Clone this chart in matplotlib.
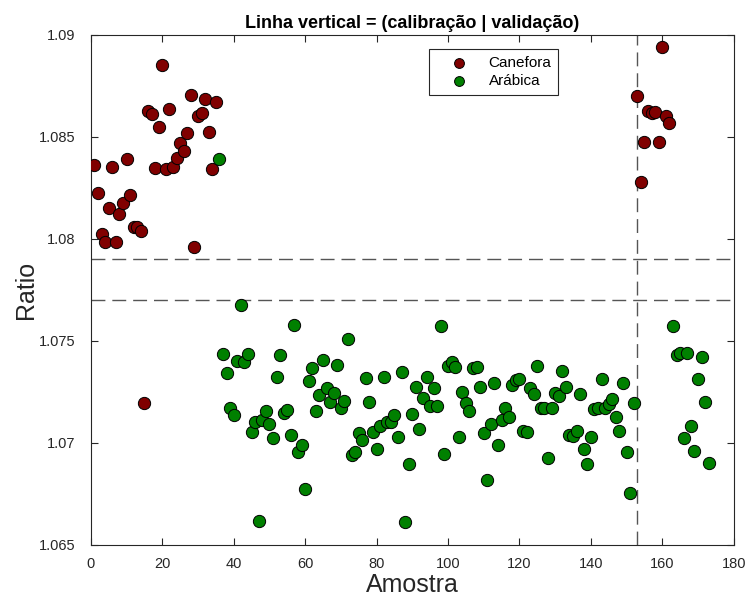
import matplotlib

matplotlib.use("Agg")
import matplotlib.pyplot as plt
from matplotlib.ticker import FuncFormatter, MultipleLocator

plt.rcParams["font.family"] = ["Liberation Sans", "DejaVu Sans"]

# amostras de calibração e validação (Canefora)
canefora_amostra = list(range(1, 36)) + list(range(153, 163))
canefora_ratio = [
    1.08363, 1.08224, 1.08025, 1.07987, 1.08154, 1.08351, 1.07987, 1.08123,
    1.08178, 1.08392, 1.08216, 1.08057, 1.08057, 1.08039, 1.07195, 1.08627,
    1.08611, 1.08350, 1.08551, 1.08853, 1.08342, 1.08637, 1.08355, 1.08396,
    1.08469, 1.08431, 1.08518, 1.08706, 1.07962, 1.08603, 1.08616, 1.08686,
    1.08526, 1.08343, 1.08673,
    1.08701, 1.08279, 1.08477, 1.08627, 1.08616, 1.08620, 1.08477, 1.08940,
    1.08603, 1.08567,
]

# amostras de Arábica
arabica_amostra = list(range(36, 153)) + list(range(163, 174))
arabica_ratio = [
    1.08392, 1.07436, 1.07342, 1.07170, 1.07137, 1.07403, 1.07675, 1.07399,
    1.07435, 1.07052, 1.07105, 1.06618, 1.07113, 1.07157, 1.07092, 1.07023,
    1.07325, 1.07430, 1.07147, 1.07162, 1.07039, 1.07578, 1.06958, 1.06990,
    1.06773, 1.07306, 1.07369, 1.07157, 1.07235, 1.07407, 1.07268, 1.07200,
    1.07243, 1.07382, 1.07170, 1.07206, 1.07508, 1.06941, 1.06954, 1.07047,
    1.07015, 1.07320, 1.07200, 1.07052, 1.06969, 1.07085, 1.07325, 1.07105,
    1.07105, 1.07137, 1.07031, 1.07348, 1.06611, 1.06897, 1.07142, 1.07273,
    1.07069, 1.07219, 1.07322, 1.07183, 1.07268, 1.07181, 1.07574, 1.06946,
    1.07377, 1.07399, 1.07374, 1.07031, 1.07252, 1.07194, 1.07159, 1.07366,
    1.07374, 1.07276, 1.07047, 1.06819, 1.07093, 1.07293, 1.06990, 1.07113,
    1.07173, 1.07129, 1.07284, 1.07309, 1.07314, 1.07060, 1.07052, 1.07268,
    1.07239, 1.07379, 1.07173, 1.07170, 1.06925, 1.07170, 1.07243, 1.07230,
    1.07353, 1.07276, 1.07039, 1.07034, 1.07059, 1.07239, 1.06969, 1.06895,
    1.07029, 1.07165, 1.07170, 1.07312, 1.07170, 1.07190, 1.07216, 1.07129,
    1.07060, 1.07293, 1.06954, 1.06753, 1.07198,
    1.07574, 1.07431, 1.07440, 1.07023, 1.07443, 1.07083, 1.06961, 1.07314,
    1.07420, 1.07203, 1.06902,
]

limites_ratio = [1.079, 1.077]
divisao_amostra = 153

AX_COLOR = "#262626"

fig = plt.figure(figsize=(7.51, 5.99), dpi=100)
ax = fig.add_axes([0.121, 0.0902, 0.856, 0.8514])

ax.scatter(canefora_amostra, canefora_ratio, s=78, c="#800000",
           edgecolors="black", linewidths=0.7, label="Canefora", zorder=3)
ax.scatter(arabica_amostra, arabica_ratio, s=78, c="#008000",
           edgecolors="black", linewidths=0.7, label="Arábica", zorder=3)

for lim in limites_ratio:
    ax.axhline(lim, color="#555555", lw=1.0, dashes=(10, 5), zorder=2)
ax.axvline(divisao_amostra, color="#555555", lw=1.0, dashes=(10, 5), zorder=2)

ax.set_xlim(0, 180)
ax.set_ylim(1.065, 1.09)
ax.xaxis.set_major_locator(MultipleLocator(20))
ax.yaxis.set_major_locator(MultipleLocator(0.005))
ax.yaxis.set_major_formatter(FuncFormatter(lambda v, p: f"{v:g}"))
ax.tick_params(direction="in", top=True, right=True, length=5, width=0.8,
               labelsize=10.5, colors=AX_COLOR)
ax.tick_params(axis="x", pad=9)
ax.tick_params(axis="y", pad=11)
for sp in ax.spines.values():
    sp.set_color(AX_COLOR)
    sp.set_linewidth(0.8)

ax.set_xlabel("Amostra", fontsize=18, color=AX_COLOR, labelpad=1)
ax.set_ylabel("Ratio", fontsize=18, color=AX_COLOR, labelpad=1)
ax.set_title("Linha vertical = (calibração | validação)", fontsize=13,
             fontweight="bold", color="black", pad=5)

leg = ax.legend(loc="upper left", bbox_to_anchor=(0.526, 0.973),
                borderaxespad=0, fancybox=False, edgecolor=AX_COLOR,
                fontsize=11, markerscale=0.8, handlelength=3.0,
                handletextpad=0.45, borderpad=0.45, labelspacing=0.3,
                framealpha=1)
leg.get_frame().set_linewidth(0.8)

fig.savefig("out.png", dpi=100)
